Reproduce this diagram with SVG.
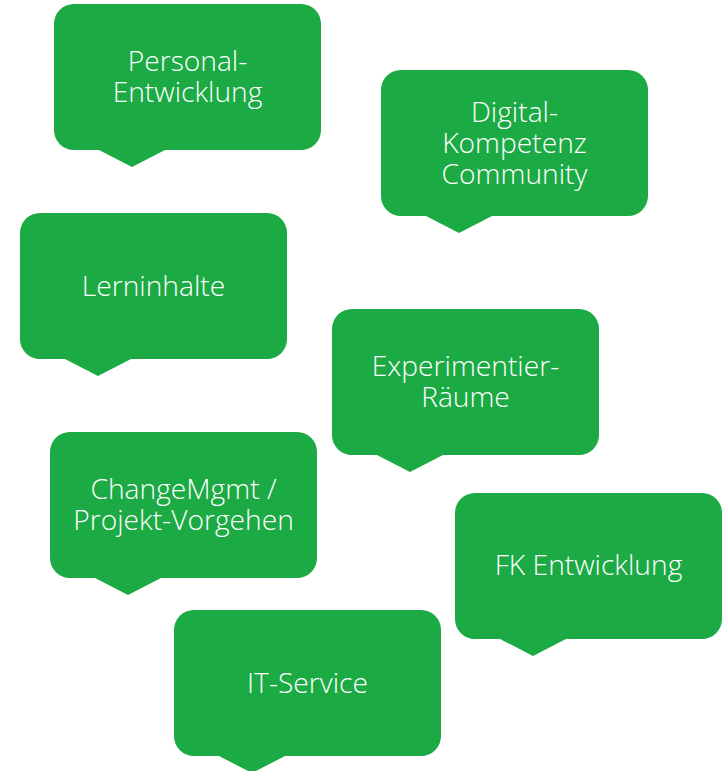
<svg xmlns="http://www.w3.org/2000/svg" xmlns:xlink="http://www.w3.org/1999/xlink" width="724" height="771" viewBox="0 0 724 771">
<defs>
<path id="bubble" d="M20,0 H247 A20,20 0 0 1 267,20 V126 A20,20 0 0 1 247,146 H111 L78,163 L45,146 H20 A20,20 0 0 1 0,126 V20 A20,20 0 0 1 20,0 Z"/>
</defs>
<style>
.b{fill:#1BAA44}
.t{fill:#FFFFFF;font-family:"Open Sans","Liberation Sans",sans-serif;font-size:28.2px;font-weight:350;text-anchor:middle}
</style>
<rect width="724" height="771" fill="#FFFFFF"/>
<g id="connectors"></g>
<g id="personal-entwicklung">
<use xlink:href="#bubble" class="b" x="54" y="4"/>
<text class="t" x="187.5" y="71">Personal-<tspan x="187.5" dy="31">Entwicklung</tspan></text>
</g>
<g id="digital-kompetenz">
<use xlink:href="#bubble" class="b" x="381" y="70"/>
<text class="t" x="514.5" y="121.5">Digital-<tspan x="514.5" dy="31">Kompetenz</tspan><tspan x="514.5" dy="31">Community</tspan></text>
</g>
<g id="lerninhalte">
<use xlink:href="#bubble" class="b" x="20" y="213"/>
<text class="t" x="153.5" y="295.5">Lerninhalte</text>
</g>
<g id="experimentier-raeume">
<use xlink:href="#bubble" class="b" x="332" y="309"/>
<text class="t" x="465.5" y="376">Experimentier-<tspan x="465.5" dy="31">Räume</tspan></text>
</g>
<g id="changemgmt">
<use xlink:href="#bubble" class="b" x="50" y="432"/>
<text class="t" x="183.5" y="499">ChangeMgmt /<tspan x="183.5" dy="31">Projekt-Vorgehen</tspan></text>
</g>
<g id="fk-entwicklung">
<use xlink:href="#bubble" class="b" x="455" y="493"/>
<text class="t" x="588.5" y="575">FK Entwicklung</text>
</g>
<g id="it-service">
<use xlink:href="#bubble" class="b" x="174" y="610"/>
<text class="t" x="307.5" y="692.5">IT-Service</text>
</g>
</svg>
